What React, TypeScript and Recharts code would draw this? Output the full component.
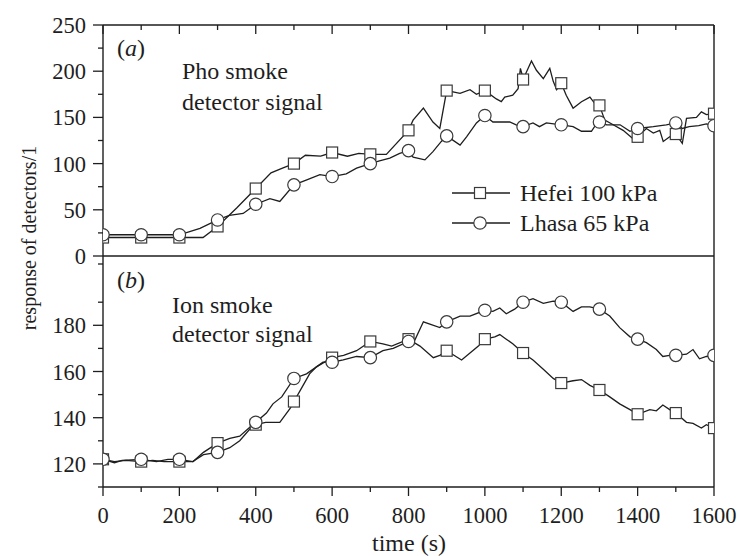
import React from 'react';
import { LineChart, Line, XAxis, YAxis, Legend } from 'recharts';

const FONT = '"Liberation Serif", "Times New Roman", serif';
const INK = '#1e1e1e';

// [time (s), response]
const phoHefei: [number, number][] = [
    [0, 20], [50, 20], [100, 20], [150, 20], [200, 20], [262, 20], [300, 32], [350, 52], [400, 73],
    [440, 90], [470, 95], [500, 100], [530, 109], [570, 108], [600, 112], [640, 108], [670, 111],
    [700, 110], [742, 110], [800, 136], [812, 147], [839, 160], [864, 145], [882, 138], [900, 179],
    [935, 176], [961, 180], [978, 175], [1000, 179], [1030, 170], [1043, 167], [1052, 172], [1073, 174],
    [1087, 181], [1093, 203], [1097, 197], [1100, 191], [1122, 211], [1135, 201], [1153, 192],
    [1170, 203], [1179, 189], [1188, 180], [1200, 187], [1213, 174], [1231, 160], [1253, 167],
    [1275, 172], [1288, 165], [1300, 163], [1314, 147], [1336, 142], [1362, 136], [1388, 127],
    [1400, 129], [1423, 138], [1441, 133], [1458, 136], [1467, 124], [1484, 129], [1500, 132],
    [1517, 122], [1528, 149], [1554, 150], [1567, 156], [1580, 153], [1600, 154],
];

const phoLhasa: [number, number][] = [
    [0, 23], [100, 23], [200, 23], [254, 30], [300, 39], [331, 44], [367, 46], [400, 56], [437, 62],
    [463, 59], [500, 77], [532, 82], [568, 88], [600, 86], [637, 89], [664, 95], [700, 100], [724, 103],
    [751, 106], [777, 111], [800, 114], [812, 107], [843, 104], [864, 113], [886, 124], [900, 130],
    [935, 120], [952, 129], [978, 144], [1000, 152], [1021, 145], [1065, 145], [1082, 142], [1100, 140],
    [1126, 144], [1143, 140], [1161, 144], [1200, 142], [1231, 140], [1253, 135], [1279, 135],
    [1292, 143], [1300, 145], [1319, 142], [1354, 142], [1380, 135], [1400, 138], [1441, 140],
    [1475, 142], [1500, 144], [1517, 138], [1535, 140], [1560, 141], [1580, 143], [1600, 141],
];

const ionHefei: [number, number][] = [
    [0, 122], [30, 121], [60, 121.5], [100, 121], [130, 121.5], [160, 121], [200, 121], [236, 121],
    [263, 125], [300, 129], [332, 131], [358, 132], [385, 136], [400, 137], [426, 138], [463, 138],
    [490, 144], [500, 147], [524, 154], [541, 159], [559, 162], [600, 166], [630, 167], [664, 169],
    [700, 173], [733, 172], [756, 171], [800, 174], [830, 171], [865, 166], [882, 167], [900, 169],
    [939, 165], [961, 168], [983, 171], [1000, 174], [1026, 175], [1039, 176], [1056, 174], [1073, 172],
    [1100, 168], [1126, 165], [1153, 161], [1179, 157], [1200, 155], [1231, 156], [1253, 156.5],
    [1275, 154], [1300, 152], [1327, 149], [1353, 146], [1380, 143.5], [1400, 141.5], [1432, 143.5],
    [1449, 143], [1466, 145.5], [1484, 143.5], [1500, 142], [1528, 138], [1545, 137.5], [1567, 135.5],
    [1580, 137], [1600, 135.5],
];

const ionLhasa: [number, number][] = [
    [0, 122], [30, 120.5], [50, 121.5], [100, 122], [140, 121], [170, 122], [200, 122], [235, 121],
    [263, 124], [300, 125], [332, 127], [358, 130], [400, 138], [428, 142], [445, 146], [468, 149],
    [500, 157], [533, 159], [559, 162], [576, 164], [600, 164], [629, 165], [664, 166.5], [700, 166],
    [733, 169], [760, 170], [800, 173], [812, 172], [839, 181.5], [856, 180.5], [882, 179], [900, 181.5],
    [935, 184], [961, 184], [1000, 186.5], [1021, 186], [1039, 187.5], [1056, 185], [1078, 187],
    [1100, 190], [1126, 191.5], [1153, 189.5], [1179, 190.5], [1200, 190], [1231, 186], [1253, 188],
    [1275, 188], [1300, 187], [1327, 184], [1353, 179], [1380, 175], [1400, 174], [1423, 172.5],
    [1449, 169.5], [1466, 166.5], [1484, 167], [1500, 167], [1528, 167.5], [1545, 169.5], [1562, 165.5],
    [1580, 166.5], [1600, 167],
];

const seriesNames = ['Hefei 100 kPa', 'Lhasa 65 kPa'];
const timeTicks = [0, 100, 200, 300, 400, 500, 600, 700, 800, 900, 1000, 1100, 1200, 1300, 1400, 1500, 1600];
const phoTicks = [0, 25, 50, 75, 100, 125, 150, 175, 200, 225, 250];
const ionTicks = [110, 120, 130, 140, 150, 160, 170, 180, 190, 200, 210];

const toPts = (arr: [number, number][]) => arr.map(([t, v]) => ({ t, v }));

const W = 740;
const PANEL_H = 231;
// axes get 1px of room (Recharts skips axes of zero size)
const MARGIN_L = 102;
const MARGIN_R = 25;

const SquareDot = (props: any) => {
    const { cx, cy, payload, index } = props;
    if (payload.t % 100 !== 0) return <g key={index} />;
    return <rect key={index} x={cx - 5.5} y={cy - 5.5} width={11} height={11} fill="#fff" stroke="#3a3a3a" strokeWidth={1.2} />;
};

const CircleDot = (props: any) => {
    const { cx, cy, payload, index } = props;
    if (payload.t % 100 !== 0) return <g key={index} />;
    return <circle key={index} cx={cx} cy={cy} r={6.2} fill="#fff" stroke="#3a3a3a" strokeWidth={1.2} />;
};

const xTick = (withLabel: boolean) => (props: any) => {
    const { x, y, payload } = props;
    const major = payload.value % 200 === 0;
    return (
        <g>
            <line x1={x} x2={x} y1={y} y2={y + (major ? 9 : 5)} stroke={INK} strokeWidth={1.3} />
            {withLabel && major && (
                <text x={x} y={y + 36} textAnchor="middle" fontSize={22.5} fontFamily={FONT} fill={INK}>
                    {payload.value}
                </text>
            )}
        </g>
    );
};

const yLeftTick = (majorStep: number) => (props: any) => {
    const { x, y, payload } = props;
    const major = payload.value % majorStep === 0;
    return (
        <g>
            <line x1={x - (major ? 10 : 5)} x2={x} y1={y} y2={y} stroke={INK} strokeWidth={1.3} />
            {major && (
                <text x={x - 17} y={y + 8} textAnchor="end" fontSize={22.5} fontFamily={FONT} fill={INK}>
                    {payload.value}
                </text>
            )}
        </g>
    );
};

const yRightTick = (majorStep: number) => (props: any) => {
    const { x, y, payload } = props;
    const major = payload.value % majorStep === 0;
    return <line x1={x - (major ? 10 : 6)} x2={x} y1={y} y2={y} stroke={INK} strokeWidth={1.3} />;
};

const LegendBox = () => (
    <svg width={250} height={64}>
        {seriesNames.map((name, i) => {
            const cy = 18 + i * 30;
            return (
                <g key={name}>
                    <line x1={7} x2={65} y1={cy} y2={cy} stroke={INK} strokeWidth={1.3} />
                    {i === 0 ? (
                        <rect x={29.5} y={cy - 5.5} width={11} height={11} fill="#fff" stroke="#3a3a3a" strokeWidth={1.2} />
                    ) : (
                        <circle cx={35} cy={cy} r={6.2} fill="#fff" stroke="#3a3a3a" strokeWidth={1.2} />
                    )}
                    <text x={75} y={cy + 8} fontSize={24} fontFamily={FONT} fill={INK}>{name}</text>
                </g>
            );
        })}
    </svg>
);

const axisLine = { stroke: INK, strokeWidth: 1.4 };

export default function App() {
    return (
        <div style={{ position: 'absolute', left: 0, top: 0, width: W, height: 556, background: '#fff', fontFamily: FONT }}>
            <div style={{ position: 'absolute', left: 0, top: 255 }}>
                <LineChart width={W} height={301} margin={{ top: 0, right: MARGIN_R, left: MARGIN_L, bottom: 301 - 1 - PANEL_H - 1 }}>
                    <XAxis xAxisId="xt" orientation="top" type="number" dataKey="t" domain={[0, 1600]} ticks={timeTicks}
                           height={1} tickSize={0} tickMargin={0} axisLine={axisLine} tickLine={false} tick={xTick(false)} />
                    <XAxis xAxisId="xb" orientation="bottom" type="number" dataKey="t" domain={[0, 1600]} ticks={timeTicks}
                           allowDataOverflow height={1} tickSize={0} tickMargin={0} axisLine={axisLine} tickLine={false}
                           tick={xTick(true)} />
                    <YAxis yAxisId="l" orientation="left" type="number" domain={[110, 210]} ticks={ionTicks}
                           allowDataOverflow width={1} tickSize={0} tickMargin={0} axisLine={axisLine} tickLine={false}
                           tick={yLeftTick(20)} />
                    <YAxis yAxisId="r" orientation="right" type="number" domain={[110, 210]} ticks={ionTicks}
                           width={1} tickSize={0} tickMargin={0} axisLine={axisLine} tickLine={false}
                           tick={yRightTick(20)} />
                    <Line xAxisId="xb" yAxisId="l" data={toPts(ionHefei)} dataKey="v" name={seriesNames[0]} type="linear"
                          stroke={INK} strokeWidth={1.3} dot={SquareDot} activeDot={false} isAnimationActive={false} />
                    <Line xAxisId="xb" yAxisId="l" data={toPts(ionLhasa)} dataKey="v" name={seriesNames[1]} type="linear"
                          stroke={INK} strokeWidth={1.3} dot={CircleDot} activeDot={false} isAnimationActive={false} />
                </LineChart>
            </div>
            <div style={{ position: 'absolute', left: 0, top: 0 }}>
                <LineChart width={W} height={25 + PANEL_H + 20} margin={{ top: 24, right: MARGIN_R, left: MARGIN_L, bottom: 20 }}>
                    <XAxis xAxisId="x" orientation="top" type="number" dataKey="t" domain={[0, 1600]} ticks={timeTicks}
                           allowDataOverflow height={1} tickSize={0} tickMargin={0} axisLine={axisLine} tickLine={false}
                           tick={xTick(false)} />
                    <YAxis yAxisId="l" orientation="left" type="number" domain={[0, 250]} ticks={phoTicks}
                           allowDataOverflow width={1} tickSize={0} tickMargin={0} axisLine={axisLine} tickLine={false}
                           tick={yLeftTick(50)} />
                    <YAxis yAxisId="r" orientation="right" type="number" domain={[0, 250]} ticks={phoTicks}
                           width={1} tickSize={0} tickMargin={0} axisLine={axisLine} tickLine={false}
                           tick={yRightTick(50)} />
                    <Line xAxisId="x" yAxisId="l" data={toPts(phoHefei)} dataKey="v" name={seriesNames[0]} type="linear"
                          stroke={INK} strokeWidth={1.3} dot={SquareDot} activeDot={false} isAnimationActive={false} />
                    <Line xAxisId="x" yAxisId="l" data={toPts(phoLhasa)} dataKey="v" name={seriesNames[1]} type="linear"
                          stroke={INK} strokeWidth={1.3} dot={CircleDot} activeDot={false} isAnimationActive={false} />
                    <Legend layout="horizontal" verticalAlign="middle" align="center" content={<LegendBox />}
                            wrapperStyle={{ left: 445, top: 175, width: 250, height: 64 }} />
                </LineChart>
            </div>
            <svg width={W} height={556} style={{ position: 'absolute', left: 0, top: 0, pointerEvents: 'none' }}
                 fontFamily={FONT} fill={INK}>
                <text x={117} y={56} fontSize={24}>(<tspan fontStyle="italic">a</tspan>)</text>
                <text x={182} y={79} fontSize={24}>Pho smoke</text>
                <text x={182} y={110} fontSize={24}>detector signal</text>
                <text x={117} y={288} fontSize={24}>(<tspan fontStyle="italic">b</tspan>)</text>
                <text x={172} y={313} fontSize={24}>Ion smoke</text>
                <text x={172} y={342} fontSize={24}>detector signal</text>
                <text transform="translate(36,238) rotate(-90)" textAnchor="middle" fontSize={20}>response of detectors/1</text>
                <text x={409} y={551} textAnchor="middle" fontSize={24}>time (s)</text>
            </svg>
        </div>
    );
}
